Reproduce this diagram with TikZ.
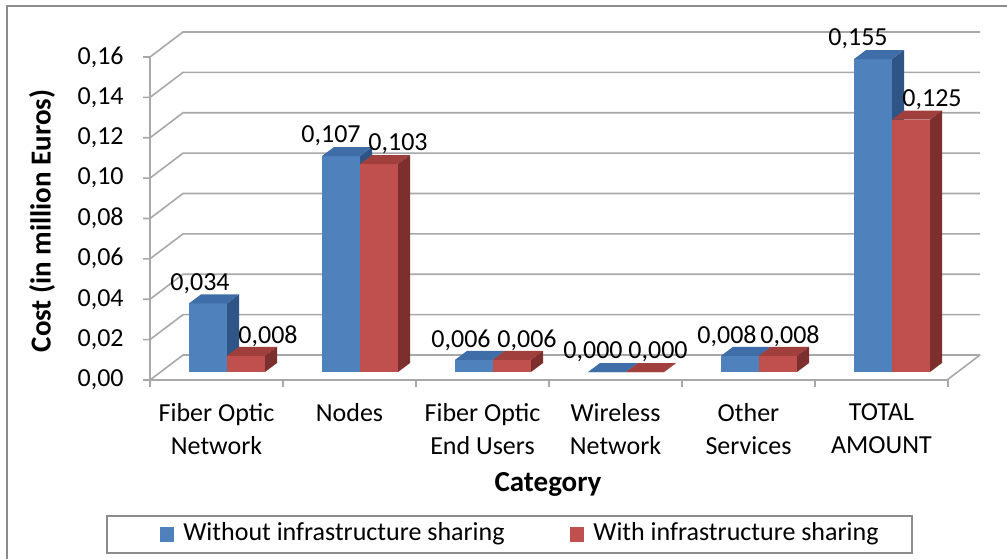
\documentclass[tikz,border=0pt]{standalone}
\usepackage{fontspec}
\setmainfont{Carlito}
\usetikzlibrary{positioning}
\definecolor{barblue}{HTML}{4F81BD}
\definecolor{barbluetop}{HTML}{3F6DA8}
\definecolor{barblueside}{HTML}{2F5486}
\definecolor{barred}{HTML}{C0504D}
\definecolor{barredtop}{HTML}{A13F3C}
\definecolor{barredside}{HTML}{7D2F2D}
\definecolor{gridgray}{HTML}{A8A8A8}
\definecolor{framegray}{HTML}{8C8C8C}
\pgfkeys{/pgf/number format/.cd,assume math mode=true,use comma,fixed,fixed zerofill}

\begin{document}
\begin{tikzpicture}[x=0.02cm,y=-0.02cm,
  lbl/.style={font=\fontsize{14.8}{18.8}\selectfont,inner sep=0pt},
  axtitle/.style={font=\fontsize{16.5}{20}\selectfont\bfseries,inner sep=0pt},
  gridln/.style={gridgray,line width=0.9pt},
  legbox/.style={draw=framegray,line width=0.9pt}]
\useasboundingbox[fill=white] (0,0) rectangle (1007,558);
\draw[framegray,line width=0.9pt] (7,570) -- (7,6) -- (1020,6);
% walls and floor
\foreach \v in {0,...,8}{
  \pgfmathsetmacro{\ty}{380-40.375*\v}
  \pgfmathsetmacro{\tv}{0.02*\v}
  \draw[gridln] (143,\ty) -- (150,\ty) -- (183,\ty-25) -- (980,\ty-25);
  \node[lbl,anchor=east] (tick\v) at (124,\ty) {\pgfmathprintnumber[precision=2]{\tv}};
}
\draw[gridln] (150,57) -- (150,380) -- (947,380) -- (980,355);
\foreach \k in {0,...,6}
  \draw[gridln] (150+133*\k,380) -- (150+133*\k,387);
% bars
\foreach \i/\vb/\vr/\xb/\xr in {1/0.034/0.008/200/268, 2/0.107/0.103/331/398,
    3/0.006/0.006/461/527, 4/0/0/593/658, 5/0.008/0.008/727/790, 6/0.155/0.125/858/932}{
  \pgfmathsetmacro{\cx}{94+133*\i}
  \pgfmathsetmacro{\hb}{372-2018.75*\vb}
  \pgfmathsetmacro{\hr}{372-2018.75*\vr}
  \fill[barblueside] (\cx,372) -- (\cx+12,363) -- (\cx+12,\hb-9) -- (\cx,\hb) -- cycle;
  \fill[barblue] (\cx-38,372) rectangle (\cx,\hb);
  \fill[barbluetop] (\cx-38,\hb) -- (\cx,\hb) -- (\cx+12,\hb-9) -- (\cx-26,\hb-9) -- cycle;
  \fill[barred] (\cx,372) rectangle (\cx+38,\hr);
  \fill[barredtop] (\cx,\hr) -- (\cx+38,\hr) -- (\cx+50,\hr-9) -- (\cx+12,\hr-9) -- cycle;
  \fill[barredside] (\cx+38,372) -- (\cx+50,363) -- (\cx+50,\hr-9) -- (\cx+38,\hr) -- cycle;
  \node[lbl] (valb\i) at (\xb,\hb-20) {\pgfmathprintnumber[precision=3]{\vb}};
  \node[lbl] (valr\i) at (\xr,\hr-20) {\pgfmathprintnumber[precision=3]{\vr}};
}
% category labels
\foreach \i/\txt in {1/{Fiber Optic\\Network}, 2/Nodes, 3/{Fiber Optic\\End Users},
    4/{Wireless\\Network}, 5/{Other\\Services}, 6/{TOTAL\\AMOUNT}}
  \node[lbl,align=center,anchor=north] (cat\i) at (83.5+133*\i,403) {\txt};
\node[axtitle] (xtitle) at (548,484) {Category};
\node[axtitle,rotate=90] (ytitle) at (42,221) {Cost (in million Euros)};
% legend
\draw[legbox] (107,516) rectangle (912,553);
\fill[barblue] (160,527) rectangle (174,542);
\node[lbl,anchor=west] (legb) at (183,534) {Without infrastructure sharing};
\fill[barred] (570,527) rectangle (584,542);
\node[lbl,anchor=west] (legr) at (593,534) {With infrastructure sharing};
\end{tikzpicture}
\end{document}
